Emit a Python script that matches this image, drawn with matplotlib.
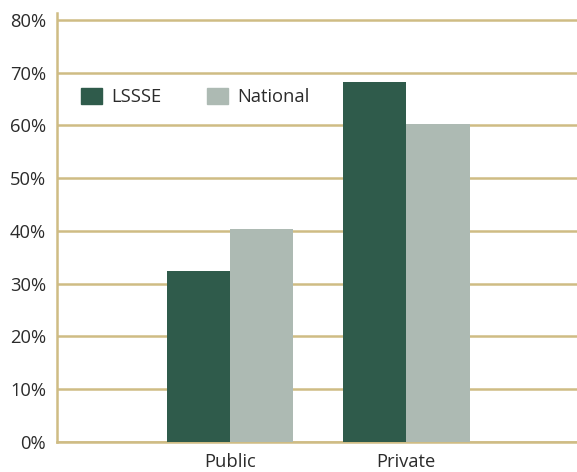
import numpy as np
import matplotlib
matplotlib.use("Agg")
import matplotlib.pyplot as plt
from matplotlib.patches import Patch

plt.rcParams['font.family'] = ['Open Sans', 'DejaVu Sans']

categories = ["Public", "Private"]
lssse = [32.3, 68.2]
national = [40.3, 60.2]
yticks = [0, 10, 20, 30, 40, 50, 60, 70, 80]

dark = "#2f5b4b"
light = "#adbab3"
gold = "#cfbc84"
txt = "#2b2b2b"

fig = plt.figure(figsize=(5.77, 4.72), dpi=100)
ax = fig.add_axes([57/577, 30.3/472, 1 - 57/577, (441.7 - 13)/472])

x = np.arange(len(categories))
w = 0.36
ax.bar(x - w/2, lssse, w, color=dark, zorder=3)
ax.bar(x + w/2, national, w, color=light, zorder=3)

ax.set_xlim(-0.983, 1.97)
ax.set_ylim(0, 81.3)
ax.set_yticks(yticks)
ax.set_yticklabels([f"{v}%" for v in yticks])
ax.set_xticks(x)
ax.set_xticklabels(categories)
ax.tick_params(axis='both', length=0, labelsize=13.2, colors=txt)
ax.tick_params(axis='y', pad=8)
ax.tick_params(axis='x', pad=8)

# gold grid, drawn under the bars
ax.yaxis.grid(True, color=gold, linewidth=1.8, zorder=0)
ax.set_axisbelow(True)
for s in ["top", "right"]:
    ax.spines[s].set_visible(False)
ax.spines["left"].set_color(gold)
ax.spines["left"].set_linewidth(1.8)
ax.spines["bottom"].set_color(gold)
ax.spines["bottom"].set_linewidth(1.8)

handles = [Patch(color=dark, label="LSSSE"), Patch(color=light, label="National")]
ax.legend(handles=handles, ncol=2, frameon=False, loc="center left",
          bbox_to_anchor=(81/577, 1 - 97/472), bbox_transform=fig.transFigure,
          borderpad=0, borderaxespad=0, handlelength=1.15, handleheight=1.0,
          handletextpad=0.5, columnspacing=2.5, prop={'size': 13.2},
          labelcolor=txt)

fig.savefig("out.png", dpi=100)
